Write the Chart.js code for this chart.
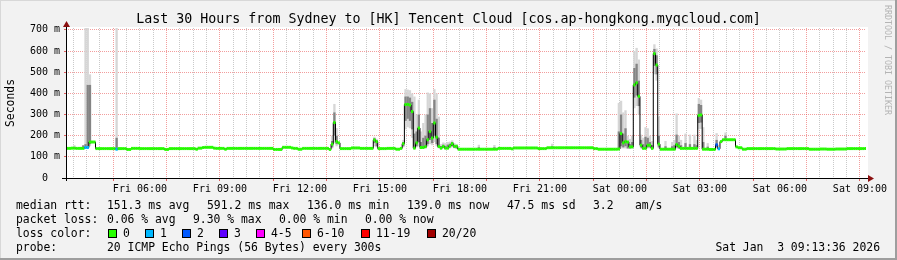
<!DOCTYPE html>
<html lang="en">
<head>
<meta charset="utf-8"/>
<title>Last 30 Hours from Sydney to [HK] Tencent Cloud</title>
<script src="https://cdn.jsdelivr.net/npm/chart.js@4.4.1/dist/chart.umd.min.js"></script>
<style>
  html, body { margin: 0; padding: 0; background: #f2f2f2; }
  #graph { display: block; }
</style>
</head>
<body>
<canvas id="graph" width="897" height="260"></canvas>
<script>
// time axis in hours since Fri 00:00, plot covers 03:13:36 .. Sat 09:13:36
const plotStartHour = 3 + 13 / 60 + 36 / 3600;
const plotEndHour = plotStartHour + 30;
const firstSampleHour = 3.25;   // 5 minute samples, first one Fri 03:15

// median rtt in ms, one row per hour
const medianRtt = [
  140,140,141,141,140,140,140,140,144,144,170,170, // Fri 03:15
  170,139,139,139,139,139,139,139,139,139,136,139,
  139,139,139,135,135,140,140,140,140,139,139,139,
  139,139,139,139,139,139,139,139,135,135,139,139,
  139,139,139,139,139,139,139,139,139,139,136,141,
  141,144,145,145,145,145,141,140,140,140,140,136, // Fri 08:15
  140,140,140,140,140,140,140,140,140,140,140,140,
  140,140,140,140,140,140,140,140,140,135,135,135,
  135,145,145,145,145,142,140,140,136,136,140,140,
  140,140,140,140,140,140,140,140,140,140,135,160,
  262,172,166,139,139,139,139,139,142,142,142,142, // Fri 13:15
  140,140,140,140,140,140,180,172,139,139,139,139,
  140,140,140,140,136,136,140,162,347,348,345,314,
  141,166,236,144,144,148,181,220,189,260,193,149,
  141,149,141,141,152,162,150,150,136,136,136,136,
  136,136,136,136,136,136,136,136,136,136,136,136, // Fri 18:15
  136,136,140,140,140,140,140,140,138,142,142,142,
  142,142,142,142,142,142,142,142,139,139,139,139,
  143,143,143,143,143,143,143,143,143,143,143,143,
  143,143,143,143,143,143,143,143,143,139,139,136,
  136,136,136,136,136,136,136,136,137,210,166,172, // Fri 23:15
  170,147,147,440,450,386,155,140,140,155,155,140,
  588,534,160,136,136,136,136,136,136,136,158,150,
  140,140,140,140,140,140,140,140,296,298,136,136,
  136,135,135,135,157,138,172,181,181,181,181,181,
  181,147,143,143,136,136,139,139,139,139,139,139, // Sat 04:15
  139,139,139,139,139,139,139,137,137,137,137,137,
  139,139,139,139,139,139,139,139,139,139,136,136,
  136,136,136,137,137,137,136,136,136,136,137,137,
  137,137,137,139,139,139,139,139,139,139,139,139
];

// samples that lost pings (index into medianRtt, loss colour level)
const lossSampleIdx = [8, 9, 22, 292, 293];
const lossSampleLevel = [1, 1, 1, 2, 1];

// smoke: spread of the 20 pings per sample (outer range and dense core)
const smokeIdx = [3, 7, 8, 9, 10, 22, 119, 120, 121, 138, 139,
  151, 152, 153, 154, 155, 156, 157, 158, 159, 160, 161, 162, 163, 164, 165, 166, 167,
  168, 169, 170, 171, 172, 173, 174, 175, 185, 192, 218,
  248, 249, 250, 251, 252, 253, 254, 255, 256, 257, 258, 259, 260, 261, 262, 263,
  264, 265, 266, 269, 272, 273, 274, 275, 276, 278, 280, 282, 283, 284, 285, 286, 288, 292, 296];
const smokeLow = [138, 140, 140, 140, 150, 136, 140, 165, 150, 150, 145,
  145, 230, 240, 235, 190, 141, 145, 150, 140, 140, 140, 150, 160, 155, 170, 150, 140,
  138, 140, 138, 138, 140, 145, 140, 138, 136, 136, 140,
  137, 140, 140, 140, 138, 138, 140, 330, 340, 300, 140, 138, 140, 140, 140, 138,
  490, 460, 140, 135, 135, 135, 140, 138, 138, 138, 138, 138, 138, 230, 232, 135, 134, 140, 175];
const smokeHigh = [155, 156, 720, 720, 490, 720, 200, 350, 236, 195, 185,
  180, 420, 418, 415, 400, 385, 300, 370, 220, 260, 300, 404, 400, 330, 420, 400, 290,
  160, 168, 165, 170, 172, 178, 165, 160, 157, 156, 162,
  355, 365, 310, 320, 200, 185, 200, 600, 615, 560, 205, 190, 240, 235, 200, 175,
  632, 612, 290, 175, 170, 180, 305, 200, 180, 210, 205, 205, 180, 378, 370, 240, 165, 212, 215];
const smokeCoreLow = [139, 142, 142, 145, 160, 137, 145, 200, 160, 165, 150,
  150, 270, 280, 270, 230, 145, 150, 170, 142, 142, 145, 160, 180, 165, 200, 160, 143,
  139, 142, 139, 140, 145, 150, 142, 140, 136, 136, 141,
  138, 150, 145, 150, 140, 140, 142, 380, 390, 340, 145, 140, 145, 145, 145, 139,
  530, 490, 145, 136, 136, 136, 145, 140, 139, 139, 139, 139, 139, 260, 262, 136, 135, 145, 178];
const smokeCoreHigh = [146, 154, 160, 440, 440, 190, 175, 310, 200, 188, 178,
  170, 385, 385, 380, 360, 210, 220, 300, 170, 190, 200, 300, 330, 260, 370, 280, 190,
  150, 158, 152, 158, 162, 170, 156, 152, 145, 145, 150,
  220, 300, 210, 235, 165, 160, 170, 520, 540, 460, 180, 160, 195, 190, 170, 155,
  610, 580, 200, 150, 150, 155, 205, 170, 155, 165, 160, 160, 155, 350, 345, 170, 148, 180, 200];

const lossColors = ['#26ff00', '#00b8ff', '#0059ff', '#5e00ff', '#ff00ff', '#ff5500', '#ff0000', '#a10000'];
const lossLabels = ['0', '1', '2', '3', '4-5', '6-10', '11-19', '20/20'];

const xLabelHours = [6, 9, 12, 15, 18, 21, 24, 27, 30, 33];
const xLabels = ['Fri 06:00', 'Fri 09:00', 'Fri 12:00', 'Fri 15:00', 'Fri 18:00', 'Fri 21:00',
  'Sat 00:00', 'Sat 03:00', 'Sat 06:00', 'Sat 09:00'];
const yLabelValues = [0, 100, 200, 300, 400, 500, 600, 700];
const yLabels = ['0  ', '100 m', '200 m', '300 m', '400 m', '500 m', '600 m', '700 m'];

const titleText = 'Last 30 Hours from Sydney to [HK] Tencent Cloud [cos.ap-hongkong.myqcloud.com]';
const rttStats = ['151.3 ms avg', '591.2 ms max', '136.0 ms min', '139.0 ms now', '47.5 ms sd', '3.2', 'am/s'];
const lossStats = ['0.06 % avg', '9.30 % max', '0.00 % min', '0.00 % now'];
const probeText = '20 ICMP Echo Pings (56 Bytes) every 300s';
const stampText = 'Sat Jan  3 09:13:36 2026';

// layout of the title and legend block
const MONO = '"DejaVu Sans Mono", monospace';
const legendFont = '11.4px ' + MONO;
const titleFont = '13.3px ' + MONO;
const rowY = [206, 220, 234, 248];
const rttStatX = [107, 207, 307, 407, 507, 593, 635];
const lossStatX = [107, 193, 279, 365];
const lossBoxX = [108, 145, 182, 219, 256, 302, 361, 427];

const MAJOR_GRID = 'rgba(230,60,60,0.5)';
const MINOR_GRID = 'rgba(120,120,120,0.4)';
const MARK_HALF = 7;   // half height of the median marker, ms

const sampleX = i => firstSampleHour + (i + 0.5) / 12;
const lossLevel = medianRtt.map(() => 0);
lossSampleIdx.forEach((s, k) => { lossLevel[s] = lossSampleLevel[k]; });

const medianPoints = medianRtt.map((v, i) => ({x: sampleX(i), y: v}));
const medianMarks = medianRtt.map((v, i) => ({x: sampleX(i), y: [v - MARK_HALF, v + MARK_HALF]}));
const smokeOuter = smokeIdx.map((s, k) => ({x: sampleX(s), y: [smokeLow[k], smokeHigh[k]]}));
const smokeCore = smokeIdx.map((s, k) => ({x: sampleX(s), y: [smokeCoreLow[k], smokeCoreHigh[k]]}));

const isMajorHour = v => Number.isInteger(v) && v % 2 === 1;

const graphDecor = {
    id: 'graphDecor',
    beforeDraw(chart) {
        const {ctx, chartArea: a, width, height} = chart;
        ctx.save();
        ctx.fillStyle = '#f2f2f2';
        ctx.fillRect(0, 0, width, height);
        ctx.fillStyle = '#ffffff';
        ctx.fillRect(a.left, a.top - 1, a.right - a.left + 2, a.bottom - a.top + 1);
        // 3d frame
        ctx.fillStyle = '#d8d8d8';
        ctx.fillRect(0, 0, width, 1);
        ctx.fillRect(0, 0, 1, height);
        ctx.fillStyle = '#9e9e9e';
        ctx.fillRect(0, height - 2, width, 2);
        ctx.fillRect(width - 2, 0, 2, height);
        ctx.restore();
    },
    afterDraw(chart) {
        const {ctx, chartArea: a, width} = chart;
        const x0 = Math.round(a.left) + 0.5, y0 = Math.round(a.bottom) + 0.5;
        ctx.save();
        // title
        ctx.fillStyle = '#000';
        ctx.font = titleFont;
        ctx.textAlign = 'center';
        ctx.textBaseline = 'middle';
        ctx.fillText(titleText, width / 2, 20);

        // axes with arrows
        ctx.strokeStyle = '#000';
        ctx.lineWidth = 1;
        ctx.beginPath();
        ctx.moveTo(a.left - 4, y0); ctx.lineTo(a.right + 4, y0);
        ctx.moveTo(x0, a.bottom + 3); ctx.lineTo(x0, a.top - 3);
        ctx.stroke();
        ctx.fillStyle = '#8b1010';
        ctx.beginPath();
        ctx.moveTo(a.right + 2, y0 - 3.5); ctx.lineTo(a.right + 8, y0); ctx.lineTo(a.right + 2, y0 + 3.5);
        ctx.closePath(); ctx.fill();
        ctx.beginPath();
        ctx.moveTo(x0 - 3.5, a.top - 1); ctx.lineTo(x0, a.top - 7); ctx.lineTo(x0 + 3.5, a.top - 1);
        ctx.closePath(); ctx.fill();

        // legend
        ctx.fillStyle = '#000';
        ctx.font = legendFont;
        ctx.textAlign = 'left';
        ctx.fillText('median rtt:', 16, rowY[0]);
        rttStats.forEach((t, k) => ctx.fillText(t, rttStatX[k], rowY[0]));
        ctx.fillText('packet loss:', 16, rowY[1]);
        lossStats.forEach((t, k) => ctx.fillText(t, lossStatX[k], rowY[1]));
        ctx.fillText('loss color:', 16, rowY[2]);
        lossLabels.forEach((t, k) => {
            const bx = lossBoxX[k];
            ctx.fillStyle = lossColors[k];
            ctx.fillRect(bx, rowY[2] - 5, 8, 9);
            ctx.strokeStyle = '#000';
            ctx.strokeRect(bx + 0.5, rowY[2] - 4.5, 8, 8);
            ctx.fillStyle = '#000';
            ctx.fillText(t, bx + 15, rowY[2]);
        });
        ctx.fillText('probe:', 16, rowY[3]);
        ctx.fillText(probeText, 107, rowY[3]);
        ctx.textAlign = 'right';
        ctx.fillText(stampText, 880, rowY[3]);

        // watermark
        ctx.translate(887, 5);
        ctx.rotate(Math.PI / 2);
        ctx.textAlign = 'left';
        ctx.fillStyle = '#b4b4b4';
        ctx.font = '8.3px ' + MONO;
        ctx.fillText('RRDTOOL / TOBI OETIKER', 0, 0);
        ctx.restore();
    }
};

const barCommon = {type: 'bar', grouped: false, barThickness: 2.3, borderWidth: 0, inflateAmount: 0};

new Chart(document.getElementById('graph'), {
    type: 'bar',
    data: {
        datasets: [
            Object.assign({label: 'smoke', data: smokeOuter, backgroundColor: '#d6d6d6', order: 4}, barCommon),
            Object.assign({label: 'smoke core', data: smokeCore, backgroundColor: '#848484', order: 3}, barCommon),
            {
                type: 'line', label: 'median', data: medianPoints, stepped: 'middle',
                borderColor: '#000', borderWidth: 1, pointRadius: 0, fill: false, order: 2
            },
            Object.assign({
                label: 'loss', data: medianMarks, order: 1,
                backgroundColor: medianRtt.map((v, i) => lossColors[lossLevel[i]])
            }, barCommon)
        ]
    },
    options: {
        responsive: false,
        animation: false,
        devicePixelRatio: 1,
        layout: {padding: {left: 0, right: 31, top: 28, bottom: 0}},
        plugins: {
            legend: {display: false},
            tooltip: {enabled: false},
            title: {display: false}
        },
        scales: {
            x: {
                type: 'linear', min: plotStartHour, max: plotEndHour, offset: false,
                afterBuildTicks: s => {
                    s.ticks = [];
                    for (let k = Math.ceil(s.min * 2); k <= s.max * 2; k++) s.ticks.push({value: k / 2});
                },
                afterFit: s => { s.height = 82; },
                grid: {
                    offset: false, lineWidth: 1, tickLength: 3,
                    color: c => isMajorHour(c.tick.value) ? MAJOR_GRID : MINOR_GRID,
                    tickColor: c => isMajorHour(c.tick.value) ? '#e06060' : 'rgba(0,0,0,0)'
                },
                border: {display: false, dash: [1, 1]},
                ticks: {
                    autoSkip: false, maxRotation: 0, minRotation: 0, padding: 2, color: '#000',
                    font: {family: MONO, size: 10},
                    callback: v => {
                        const k = xLabelHours.indexOf(v);
                        return k < 0 ? '' : xLabels[k];
                    }
                }
            },
            y: {
                min: 0, max: 709,
                afterBuildTicks: s => {
                    s.ticks = [];
                    for (let v = 0; v <= 700; v += 50) s.ticks.push({value: v});
                },
                afterFit: s => { s.width = 66; },
                grid: {
                    lineWidth: 1, tickLength: 2,
                    color: c => c.tick.value % 100 === 0 ? MAJOR_GRID : MINOR_GRID,
                    tickColor: c => c.tick.value % 100 === 0 ? '#e06060' : 'rgba(0,0,0,0)'
                },
                border: {display: false, dash: [1, 1]},
                ticks: {
                    padding: 4, color: '#000',
                    font: {family: MONO, size: 10},
                    callback: v => {
                        const k = yLabelValues.indexOf(v);
                        return k < 0 ? '' : yLabels[k];
                    }
                },
                title: {
                    display: true, text: 'Seconds', color: '#000',
                    font: {family: MONO, size: 11.4, lineHeight: 1.2},
                    padding: {top: 4, bottom: 0}
                }
            }
        }
    },
    plugins: [graphDecor]
});
</script>
</body>
</html>
